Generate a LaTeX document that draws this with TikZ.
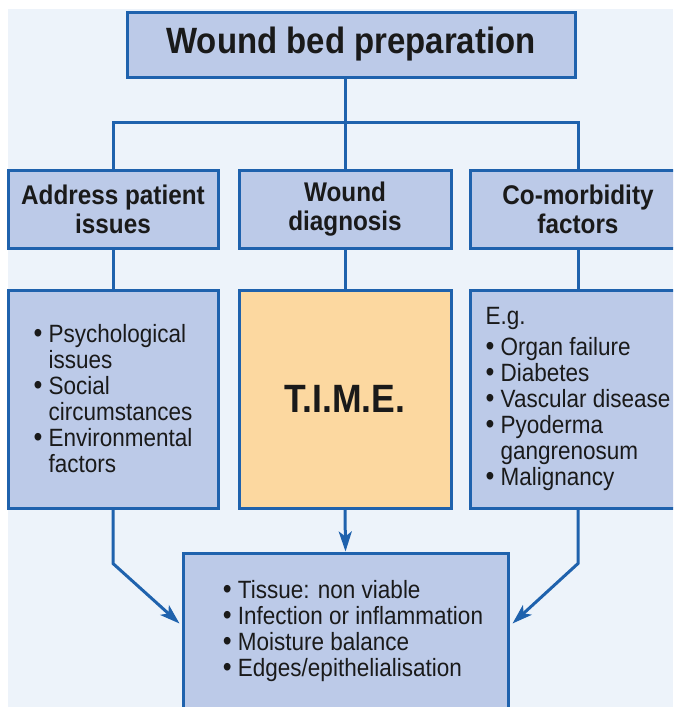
\documentclass[tikz,border=0pt]{standalone}
\usepackage{fontspec}
\setmainfont{Liberation Sans}[FakeStretch=0.9]
\usetikzlibrary{arrows.meta}
\definecolor{bgc}{HTML}{EDF3FA}
\definecolor{boxc}{HTML}{BCCAE8}
\definecolor{linec}{HTML}{1F62AD}
\definecolor{timec}{HTML}{FCD8A0}
\definecolor{txtc}{HTML}{1A1A1A}
\newcommand\bul{\makebox[15pt][l]{\fontsize{28}{26}\selectfont\textbullet}}
\newcommand\ind{\hspace*{15pt}}
\tikzset{
 box/.style={draw=linec, fill=boxc, line width=3pt, inner sep=0pt, text=txtc, align=center},
 conn/.style={draw=linec, line width=3pt},
 arr/.style={conn, -{Stealth[length=20pt,width=13pt,inset=5pt]}},
 headfont/.style={font=\fontsize{36.6}{40}\selectfont\bfseries},
 subfont/.style={font=\fontsize{27}{29}\selectfont\bfseries},
 timefont/.style={font=\fontsize{39.5}{42}\selectfont\bfseries},
 bodyfont/.style={font=\fontsize{25}{26}\selectfont, align=left},
}
\begin{document}
\begin{tikzpicture}[x=1pt,y=-1pt]
\useasboundingbox (0,0) rectangle (673,707);
\clip (0,0) rectangle (673,707);
\fill[white] (0,0) rectangle (673,707);
\fill[bgc] (8,9) rectangle (673,707);
% top
\node[box, headfont, minimum width=448pt, minimum height=65pt] (top) at (351,44.5) {Wound bed preparation};
% row 2
\node[box, subfont, minimum width=210pt, minimum height=78pt] (b1) at (113,209) {Address patient\\issues};
\node[box, subfont, minimum width=212pt, minimum height=78pt] (b2) at (345,209) {Wound\\diagnosis};
\node[box, subfont, minimum width=216pt, minimum height=78pt] (b3) at (578,209) {Co-morbidity\\factors};
% row 3
\node[box, bodyfont, minimum width=210pt, minimum height=218pt] (c1) at (113,399)
 {\bul Psychological\\\ind issues\\\bul Social\\\ind circumstances\\\bul Environmental\\\ind factors};
\node[box, timefont, fill=timec, minimum width=212pt, minimum height=218pt] (c2) at (345,399) {T.I.M.E.};
\node[box, bodyfont, minimum width=216pt, minimum height=218pt] (c3) at (578,399)
 {E.g.\\[5pt]\bul Organ failure\\\bul Diabetes\\\bul Vascular disease\\\bul Pyoderma\\\ind gangrenosum\\\bul Malignancy};
% bottom
\node[box, minimum width=325pt, minimum height=164pt] (d) at (345.5,635) {};
\node[bodyfont, text=txtc, inner sep=0pt] (dt) at (353,631)
 {\bul Tissue: non viable\\\bul Infection or inflammation\\\bul Moisture balance\\\bul Edges/epithelialisation};
% connectors
\coordinate (bus) at (345,122);
\draw[conn] (top.south -| bus) -- (b2.north);
\draw[conn] (b1.north) -- (b1.north |- bus) -- (b3.north |- bus) -- (b3.north);
\draw[conn] (b1.south) -- (c1.north);
\draw[conn] (b2.south) -- (c2.north);
\draw[conn] (b3.south) -- (c3.north);
\draw[arr] (c1.south) -- ++(0,54) -- ([shift={(-2,72)}]d.north west);
\draw[arr] (c2.south) -- (d.north);
\draw[arr] (c3.south) -- ++(0,54) -- ([shift={(3,72)}]d.north east);
\end{tikzpicture}
\end{document}
